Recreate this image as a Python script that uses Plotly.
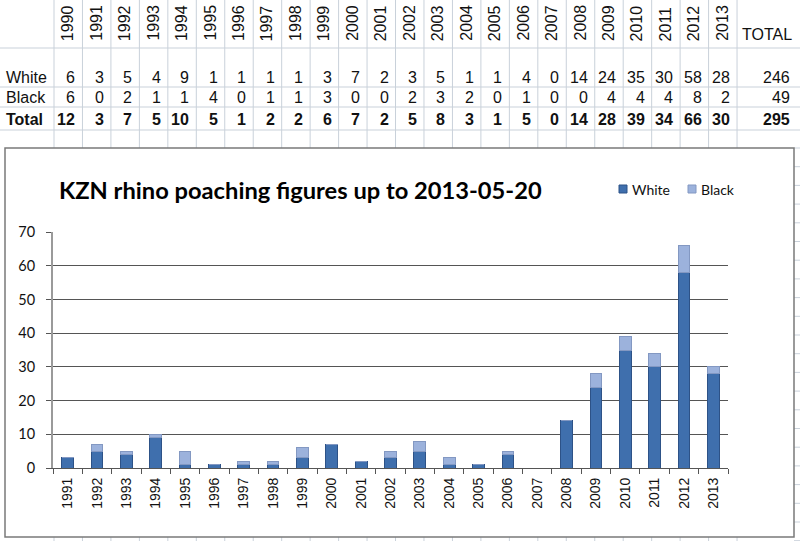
import plotly.graph_objects as go

# ---- data ----
years = ["1990", "1991", "1992", "1993", "1994", "1995", "1996", "1997", "1998", "1999",
         "2000", "2001", "2002", "2003", "2004", "2005", "2006", "2007", "2008", "2009",
         "2010", "2011", "2012", "2013"]
white = [6, 3, 5, 4, 9, 1, 1, 1, 1, 3, 7, 2, 3, 5, 1, 1, 4, 0, 14, 24, 35, 30, 58, 28]
black = [6, 0, 2, 1, 1, 4, 0, 1, 1, 3, 0, 0, 2, 3, 2, 0, 1, 0, 0, 4, 4, 4, 8, 2]
total = [12, 3, 7, 5, 10, 5, 1, 2, 2, 6, 7, 2, 5, 8, 3, 1, 5, 0, 14, 28, 39, 34, 66, 30]
row_labels = ["White", "Black", "Total"]
row_totals = [246, 49, 295]
total_header = "TOTAL"
title = "KZN rhino poaching figures up to 2013-05-20"
series_names = ["White", "Black"]
series_colors = ["#3f6fad", "#9cb2dc"]
series_edges = ["#2d5287", "#8398c2"]

# chart shows 1991..2013
chart_years = years[1:]
chart_white = white[1:]
chart_black = black[1:]

W, H = 800, 541


def px(x):
    return x / W


def py(y):
    return 1 - y / H


COL0 = 54.0
COLW = 28.46
GRID = "#c9d1da"

shapes = []
annotations = []

# spreadsheet grid (above chart)
for i in range(len(years) + 1):
    x = COL0 + i * COLW
    shapes.append(dict(type="line", xref="paper", yref="paper", x0=px(x), x1=px(x),
                       y0=py(0), y1=py(148), line=dict(color=GRID, width=1), layer="below"))
    shapes.append(dict(type="line", xref="paper", yref="paper", x0=px(x), x1=px(x),
                       y0=py(537), y1=py(541), line=dict(color=GRID, width=1), layer="below"))
for y in [48, 87, 107, 130]:
    shapes.append(dict(type="line", xref="paper", yref="paper", x0=0, x1=1,
                       y0=py(y), y1=py(y), line=dict(color=GRID, width=1), layer="below"))
k = 0
while 148 + k * 18.7 < 541:
    y = 148 + k * 18.7
    shapes.append(dict(type="line", xref="paper", yref="paper", x0=px(794), x1=1,
                       y0=py(y), y1=py(y), line=dict(color=GRID, width=1), layer="below"))
    k += 1

# chart area
shapes.append(dict(type="rect", xref="paper", yref="paper", x0=px(5), x1=px(794),
                   y0=py(537), y1=py(148), fillcolor="white",
                   line=dict(color="#7a7a7a", width=1.5), layer="below"))

TFONT = "Liberation Sans, Arial, sans-serif"

# header years
for i, yr in enumerate(years):
    cx = COL0 + i * COLW + COLW / 2
    annotations.append(dict(xref="paper", yref="paper", x=px(cx), y=py(42),
                            xanchor="center", yanchor="bottom", text=yr, textangle=-90,
                            showarrow=False, borderpad=0,
                            font=dict(family=TFONT, size=16, color="#111")))
annotations.append(dict(xref="paper", yref="paper", x=px(794), y=py(34),
                        xanchor="right", yanchor="middle", text=total_header,
                        showarrow=False, font=dict(family=TFONT, size=16, color="#111")))

rows = [white, black, total]
row_y = [77, 98, 119]
for r, (lab, vals, yy, tot) in enumerate(zip(row_labels, rows, row_y, row_totals)):
    bold = (r == 2)
    fmt = (lambda s: "<b>%s</b>" % s) if bold else (lambda s: str(s))
    annotations.append(dict(xref="paper", yref="paper", x=px(4), y=py(yy),
                            xanchor="left", yanchor="middle", text=fmt(lab),
                            showarrow=False, font=dict(family=TFONT, size=16, color="#111")))
    for i, v in enumerate(vals):
        rx = COL0 + (i + 1) * COLW - 5
        annotations.append(dict(xref="paper", yref="paper", x=px(rx), y=py(yy),
                                xanchor="right", yanchor="middle", text=fmt(v),
                                showarrow=False,
                                font=dict(family=TFONT, size=16, color="#111")))
    annotations.append(dict(xref="paper", yref="paper", x=px(792), y=py(yy),
                            xanchor="right", yanchor="middle", text=fmt(tot),
                            showarrow=False, font=dict(family=TFONT, size=16, color="#111")))

# chart title
annotations.append(dict(xref="paper", yref="paper", x=px(57), y=py(190),
                        xanchor="left", yanchor="middle", text="<b>%s</b>" % title,
                        showarrow=False, font=dict(family="Lato, sans-serif", size=23.7, color="#000")))

# legend (small squares + labels, as in the reference)
leg_x = [619, 688]
for lx, name, col, edge in zip(leg_x, series_names, series_colors, series_edges):
    shapes.append(dict(type="rect", xref="paper", yref="paper", x0=px(lx), x1=px(lx + 8),
                       y0=py(193), y1=py(185), fillcolor=col, line=dict(color=edge, width=1)))
    annotations.append(dict(xref="paper", yref="paper", x=px(lx + 11), y=py(189),
                            xanchor="left", yanchor="middle", text=name, showarrow=False,
                            font=dict(family="Lato, sans-serif", size=14, color="#111")))

fig = go.Figure()
for name, vals, col, edge in zip(series_names, [chart_white, chart_black],
                                 series_colors, series_edges):
    fig.add_trace(go.Bar(x=chart_years, y=vals, name=name, showlegend=False,
                         marker=dict(color=col, line=dict(color=edge, width=1))))

fig.update_layout(
    width=W, height=H,
    margin=dict(l=0, r=0, t=0, b=0, pad=0, autoexpand=False),
    paper_bgcolor="white", plot_bgcolor="rgba(0,0,0,0)",
    barmode="stack", bargap=0.6,
    shapes=shapes, annotations=annotations,
    showlegend=False,
    xaxis=dict(domain=[px(53), px(728)], type="category", showgrid=False, automargin=False,
               showline=True, linecolor="#555", linewidth=1,
               ticks="outside", tickson="boundaries", ticklen=5, tickcolor="#555",
               ticklabelstandoff=3,
               tickangle=-90, tickfont=dict(family=TFONT, size=14, color="#111")),
    yaxis=dict(domain=[py(468), py(232)], range=[0, 70], dtick=10, automargin=False,
               showgrid=True, gridcolor="#555", gridwidth=1, zeroline=False,
               showline=True, linecolor="#9a9a9a", linewidth=2,
               ticks="outside", ticklen=5, tickcolor="#555",
               ticklabelstandoff=8,
               tickfont=dict(family="Lato, sans-serif", size=14.5, color="#111")),
)

fig.write_html("out.html", config={"displayModeBar": False},
               post_script="document.body.style.margin='0px';document.body.style.overflow='hidden';")
